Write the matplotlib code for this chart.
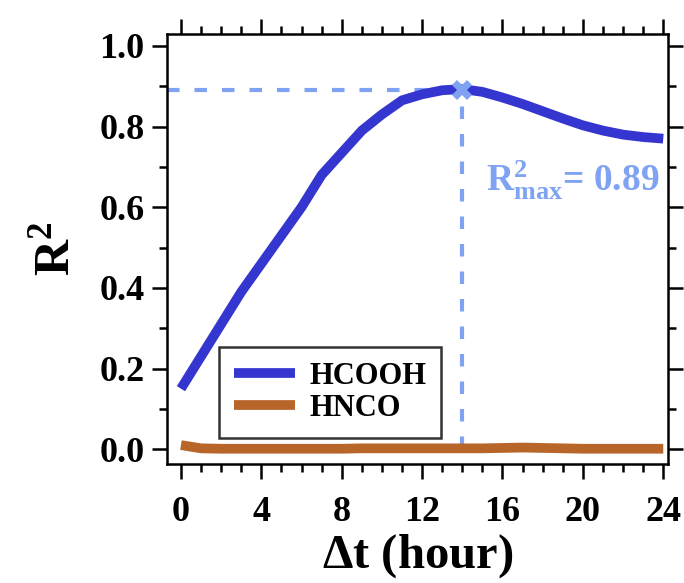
import numpy as np #importing the numpy library
import matplotlib
matplotlib.use('Agg')
import matplotlib.pyplot as plt #importing the matplotlib library
from matplotlib.ticker import MultipleLocator

#### DATA
hours = [0, 1, 2, 3, 4, 5, 6, 7, 8, 9, 10, 11, 12, 13, 14, 15, 16, 17, 18, 19, 20, 21, 22, 23, 24]
hcooh = [0.15, 0.23, 0.31, 0.39, 0.46, 0.53, 0.60, 0.68, 0.735, 0.79, 0.83, 0.865, 0.88, 0.89, 0.893,
         0.886, 0.872, 0.856, 0.838, 0.82, 0.803, 0.79, 0.78, 0.774, 0.77]
hnco = [0.01, 0.002, 0.001, 0.001, 0.001, 0.001, 0.001, 0.001, 0.001, 0.002, 0.002, 0.002, 0.002, 0.002, 0.002,
        0.002, 0.003, 0.004, 0.003, 0.002, 0.001, 0.001, 0.001, 0.001, 0.001]
peak_hour = 14
peak_r2 = 0.89
xticks = [0, 4, 8, 12, 16, 20, 24]
yticks = [0.0, 0.2, 0.4, 0.6, 0.8, 1.0]

#### STYLE
plt.rcParams['font.family'] = ['Liberation Serif', 'DejaVu Serif']
plt.rcParams['font.weight'] = 'bold'
plt.rcParams['mathtext.fontset'] = 'custom'
plt.rcParams['mathtext.rm'] = 'Liberation Serif:bold'
plt.rcParams['mathtext.bf'] = 'Liberation Serif:bold'
plt.rcParams['mathtext.it'] = 'Liberation Serif:bold'

blue = '#3535CF'
light = '#7FA3F2'
brown = '#B8652A'

fig = plt.figure(figsize=(6.84, 5.83), dpi=100)
ax = fig.add_axes([0.244, 0.204, 0.733, 0.738])

ax.plot(hours, hcooh, color=blue, lw=7, label='HCOOH', solid_capstyle='butt', zorder=3)
ax.plot(hours, hnco, color=brown, lw=7, label='HNCO', solid_capstyle='butt', zorder=3)

# dashed guides to the maximum
ax.plot([-0.7, peak_hour], [peak_r2, peak_r2], color=light, lw=3, dashes=(3, 3.6), zorder=2)
ax.plot([peak_hour, peak_hour], [0.0, peak_r2], color=light, lw=3, dashes=(3, 3.6), zorder=2)
ax.plot([peak_hour], [peak_r2], marker='X', color=light, ms=15, mew=0, zorder=4)
ax.text(15.2, 0.64, r'$\mathbf{R^2_{max}}$= 0.89', color=light, fontsize=27, fontweight='bold', va='baseline')

ax.set_xlim(-0.7, 24.25)
ax.set_ylim(-0.037, 1.03)
ax.set_xticks(xticks)
ax.set_yticks(yticks)
ax.set_yticklabels(['%.1f' % v for v in yticks])
ax.xaxis.set_minor_locator(MultipleLocator(1))
ax.yaxis.set_minor_locator(MultipleLocator(0.1))
ax.tick_params(which='both', direction='out', top=True, right=True, width=1.8,
               labeltop=False, labelright=False, labelsize=26)
ax.tick_params(axis='y', pad=5)
ax.tick_params(axis='x', pad=12)
ax.tick_params(which='major', length=11)
ax.tick_params(which='minor', length=5.5)
for s in ax.spines.values():
    s.set_linewidth(1.8)

ax.set_xlabel(r'$\Delta$t (hour)', fontsize=35, fontweight='bold', labelpad=2)
ax.set_ylabel(r'R$^2$', fontsize=36, fontweight='bold', labelpad=14)

leg = ax.legend(loc='lower left', bbox_to_anchor=(0.104, 0.06), borderaxespad=0, fontsize=22,
                frameon=True, fancybox=False, edgecolor='black', handlelength=2.0, borderpad=0.5,
                labelspacing=0.1, handletextpad=0.45)
leg.get_frame().set_linewidth(1.8)

fig.savefig('out.png', dpi=100)
